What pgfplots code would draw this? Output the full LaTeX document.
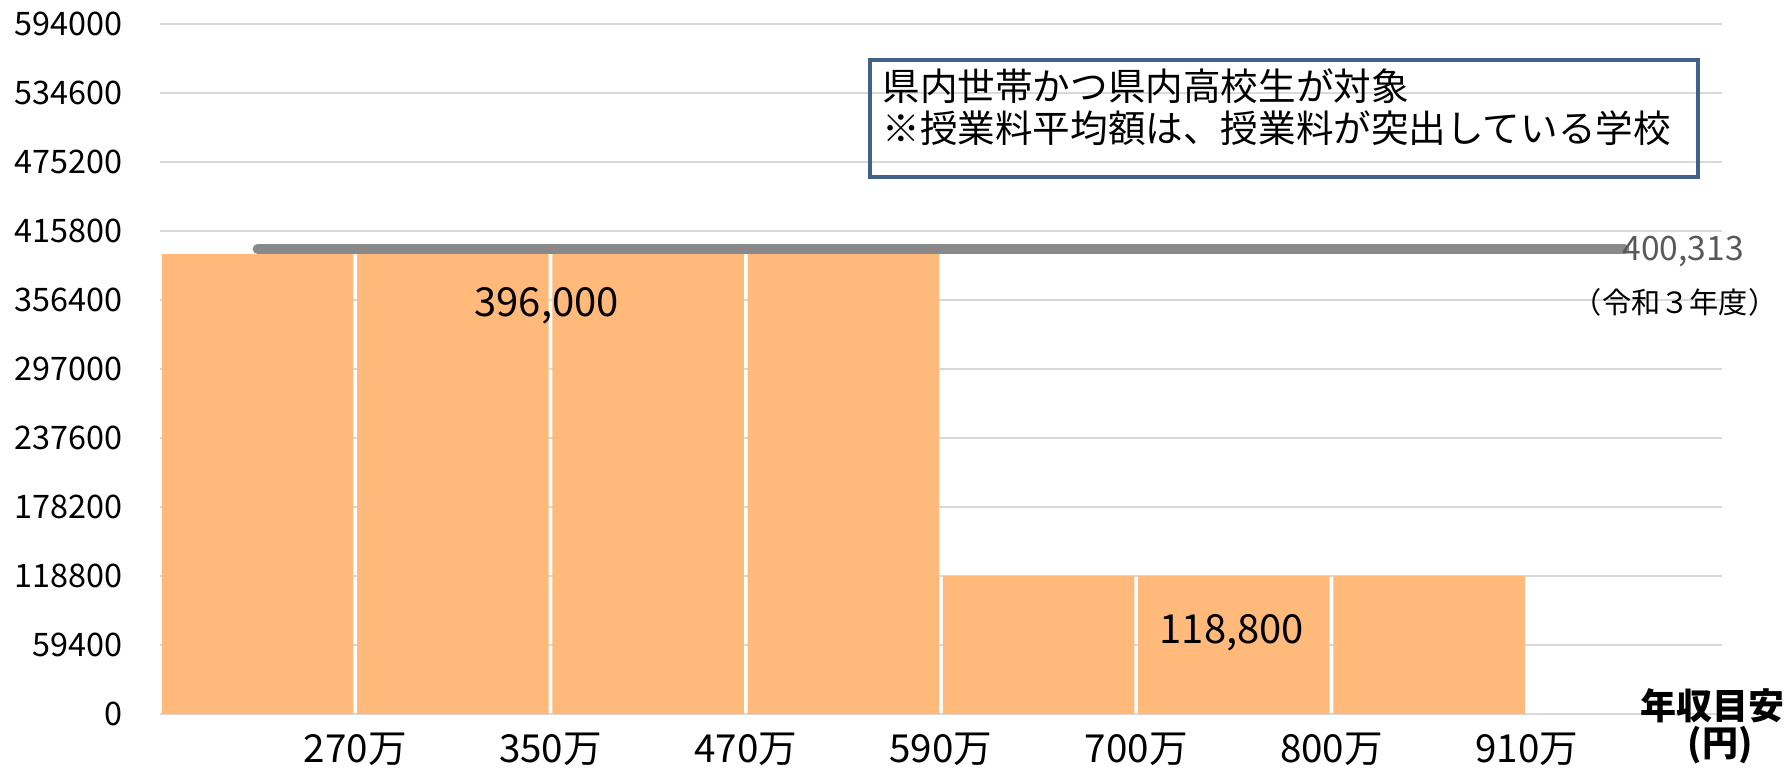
\documentclass[border=0pt]{standalone}
\usepackage{fontspec}
\setmainfont{Noto Sans CJK JP}
\usepackage{pgfplots}
\pgfplotsset{compat=1.18}
\definecolor{barc}{HTML}{FFB97A}
\definecolor{gridc}{HTML}{D9D9D9}
\definecolor{linec}{HTML}{898989}
\definecolor{boxc}{HTML}{41618C}
\definecolor{txtgray}{HTML}{595959}
\begin{document}
\begin{tikzpicture}
\begin{axis}[name=ax, at={(0,0)}, anchor=south west,
  scale only axis, width=781pt, height=345pt,
  xmin=0, xmax=8, ymin=0, ymax=594000, clip=false,
  scaled y ticks=false, scaled x ticks=false,
  axis line style={draw=none}, major tick style={draw=none},
  ytick={0,59400,118800,178200,237600,297000,356400,415800,475200,534600,594000},
  yticklabels={0,59400,118800,178200,237600,297000,356400,415800,475200,534600,594000},
  yticklabel style={anchor=east, inner sep=0pt, xshift=-18.5pt, font=\fontsize{16.2}{19}\selectfont},
  xtick={1,2,3,4,5,6,7},
  xticklabels={270万,350万,470万,590万,700万,800万,910万},
  xticklabel style={anchor=base, inner sep=0pt, yshift=-24pt, font=\fontsize{19.3}{22}\selectfont},
  ymajorgrids, grid style={color=gridc, line width=0.8pt},
]
\addplot[ybar, bar width=0.98, fill=barc, draw=none] coordinates {
  (0.5,396000) (1.5,396000) (2.5,396000) (3.5,396000)
  (4.5,118800) (5.5,118800) (6.5,118800)};
\addplot[color=linec, line width=5pt, line cap=round] coordinates {(0.5,400313) (7.5,400313)};
\node[anchor=base, inner sep=0pt, font=\fontsize{20}{23}\selectfont] at (axis cs:1.98,341800) {396,000};
\node[anchor=base, inner sep=0pt, font=\fontsize{20}{23}\selectfont] at (axis cs:5.49,61100) {118,800};
\node[anchor=base west, inner sep=0pt, text=txtgray, font=\fontsize{16.8}{19}\selectfont] at (axis cs:7.488,390000) {400,313};
\node[anchor=base, inner sep=0pt, font=\fontsize{14.6}{17}\selectfont] at (axis cs:7.76,344350) {（令和３年度）};
\node[anchor=base, inner sep=0pt, font=\fontsize{18}{21}\bfseries] at (axis cs:7.95,-4300) {年収目安};
\node[anchor=base, inner sep=0pt, font=\fontsize{18}{21}\bfseries] at (axis cs:7.99,-37000) {(円)};
\draw[boxc, line width=2pt] (axis cs:3.636,563010) rectangle (axis cs:7.877,462287);
\node[anchor=west, inner sep=0pt, font=\fontsize{18.8}{22}\selectfont] at (axis cs:3.698,540626) {県内世帯かつ県内高校生が対象};
\node[anchor=west, inner sep=0pt, font=\fontsize{18.8}{22}\selectfont] at (axis cs:3.698,504470) {※授業料平均額は、授業料が突出している学校};
\end{axis}
\pgfresetboundingbox
\path ([shift={(-80pt,-27pt)}]ax.south west) rectangle ([shift={(815pt,357pt)}]ax.south west);
\end{tikzpicture}
\end{document}
